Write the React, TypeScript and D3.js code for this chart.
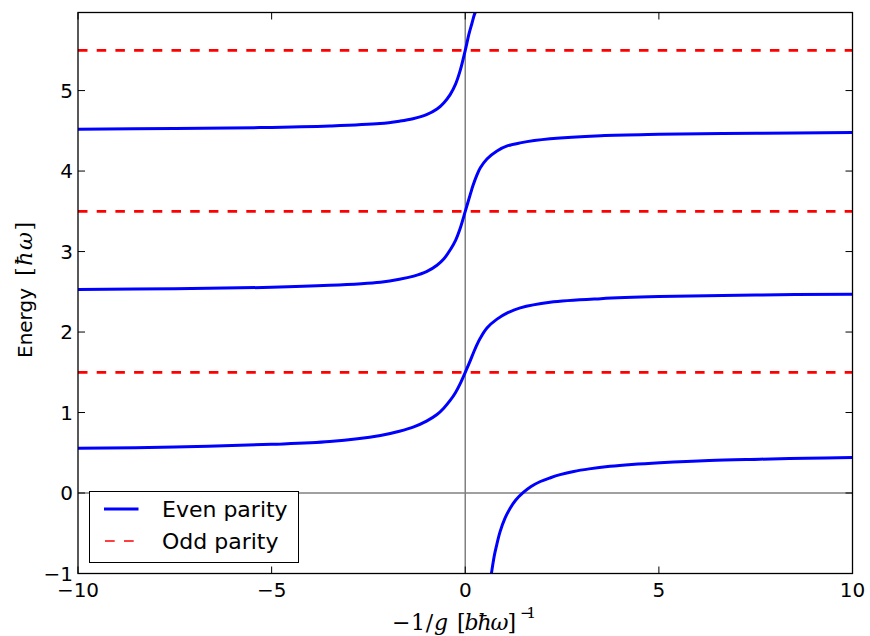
import React from "react";
import * as d3 from "d3";

// ---- data ----
const xDomain = [-10, 10];
const yDomain = [-1, 5.97];
const xTicks = [-10, -5, 0, 5, 10];
const yTicks = [-1, 0, 1, 2, 3, 4, 5];

// Even parity branches (x = -1/g, E = energy)
const evenA_x = [0.64, 0.69, 0.75, 0.8, 0.9, 1.03, 1.16, 1.3, 1.5, 1.7, 1.94, 2.2, 2.45, 2.8, 3.2, 3.74, 4.3, 5.03, 6.3, 7.61, 8.8, 10];
const evenA_E = [-1.13, -0.955, -0.78, -0.67, -0.48, -0.31, -0.19, -0.09, 0.007, 0.081, 0.143, 0.19, 0.228, 0.268, 0.3, 0.332, 0.355, 0.377, 0.405, 0.42, 0.432, 0.441];

const evenB_x = [-10, -7.5, -5, -3.5, -2.19, -1.7, -1.33, -1.0, -0.73, -0.55, -0.39, -0.25, -0.13, 0, 0.13, 0.21, 0.3, 0.39, 0.56, 0.82, 1.1, 1.42, 2.19, 3.5, 5, 7.5, 10];
const evenB_E = [0.555, 0.572, 0.605, 0.64, 0.715, 0.768, 0.822, 0.893, 0.975, 1.057, 1.15, 1.25, 1.36, 1.5, 1.645, 1.74, 1.84, 1.925, 2.05, 2.16, 2.24, 2.3, 2.37, 2.415, 2.44, 2.46, 2.47];

const evenC_x = [-10, -7.5, -5, -3.5, -2.19, -1.7, -1.33, -1.0, -0.73, -0.55, -0.39, -0.25, -0.13, 0, 0.13, 0.2, 0.3, 0.39, 0.56, 0.82, 1.1, 1.42, 2.19, 3.5, 5, 7.5, 10];
const evenC_E = [2.528, 2.538, 2.555, 2.58, 2.62, 2.655, 2.695, 2.75, 2.83, 2.91, 3.02, 3.14, 3.29, 3.5, 3.71, 3.82, 3.95, 4.04, 4.15, 4.25, 4.315, 4.35, 4.4, 4.44, 4.457, 4.47, 4.478];

const evenD_x = [-10, -7.5, -5.3, -3.5, -2.2, -1.7, -1.35, -1.0, -0.73, -0.55, -0.39, -0.25, -0.13, 0, 0.1, 0.17, 0.24, 0.3, 0.36];
const evenD_E = [4.521, 4.528, 4.54, 4.56, 4.59, 4.62, 4.65, 4.7, 4.77, 4.85, 4.95, 5.08, 5.25, 5.5, 5.71, 5.83, 5.95, 6.01, 6.08];

// Odd parity levels
const oddLevels = [1.5, 3.5, 5.5];

const legendLabels = ["Even parity", "Odd parity"];

const W = 870;
const H = 636;
const left = 78;
const right = 852.5;
const top = 12.5;
const bottom = 573.5;

export default function App() {
  const x = d3.scaleLinear().domain(xDomain).range([left, right]);
  const y = d3.scaleLinear().domain(yDomain).range([bottom, top]);
  const line = d3
    .line<[number, number]>()
    .x((d) => x(d[0]))
    .y((d) => y(d[1]))
    .curve(d3.curveCatmullRom.alpha(0.5));

  const branches = [
    [evenA_x, evenA_E],
    [evenB_x, evenB_E],
    [evenC_x, evenC_E],
    [evenD_x, evenD_E],
  ].map(([xs, es]) => xs.map((v, i) => [v, es[i]] as [number, number]));

  const tickLen = 7;
  const font = "DejaVu Sans";
  const serif = "DejaVu Serif";

  return (
    <svg
      width={W}
      height={H}
      style={{ position: "absolute", left: 0, top: 0, background: "#fff" }}
    >
      <defs>
        <clipPath id="plot">
          <rect x={left} y={top} width={right - left} height={bottom - top} />
        </clipPath>
      </defs>
      <rect x={0} y={0} width={W} height={H} fill="#fff" />
      <g clipPath="url(#plot)">
        <line x1={left} x2={right} y1={y(0)} y2={y(0)} stroke="#808080" strokeWidth={1.5} />
        <line x1={x(0)} x2={x(0)} y1={top} y2={bottom} stroke="#808080" strokeWidth={1.5} />
        {oddLevels.map((e) => (
          <line
            key={e}
            x1={left}
            x2={right}
            y1={y(e)}
            y2={y(e)}
            stroke="#ff0000"
            strokeWidth={2.8}
            strokeDasharray="9.5 9.2"
          />
        ))}
        {branches.map((b, i) => (
          <path key={i} d={line(b) || ""} fill="none" stroke="#0000ff" strokeWidth={3} strokeLinejoin="round" />
        ))}
      </g>
      {/* frame */}
      <rect
        x={left}
        y={top}
        width={right - left}
        height={bottom - top}
        fill="none"
        stroke="#000"
        strokeWidth={1.3}
      />
      {/* ticks */}
      {xTicks.map((t) => (
        <g key={"x" + t}>
          <line x1={x(t)} x2={x(t)} y1={bottom} y2={bottom - tickLen} stroke="#000" strokeWidth={1} />
          <line x1={x(t)} x2={x(t)} y1={top} y2={top + tickLen} stroke="#000" strokeWidth={1} />
          <text x={x(t)} y={597} textAnchor="middle" fontFamily={font} fontSize={20} fill="#000">
            {t < 0 ? "\u2212" + Math.abs(t) : String(t)}
          </text>
        </g>
      ))}
      {yTicks.map((t) => (
        <g key={"y" + t}>
          <line x1={left} x2={left + tickLen} y1={y(t)} y2={y(t)} stroke="#000" strokeWidth={1} />
          <line x1={right} x2={right - tickLen} y1={y(t)} y2={y(t)} stroke="#000" strokeWidth={1} />
          <text
            x={73}
            y={y(t)}
            dy="0.36em"
            textAnchor="end"
            fontFamily={font}
            fontSize={20}
            fill="#000"
          >
            {t < 0 ? "\u2212" + Math.abs(t) : String(t)}
          </text>
        </g>
      ))}
      {/* x axis label */}
      <text x={392} y={630} fontFamily={serif} fontSize={22} fill="#000" textLength={56} lengthAdjust="spacing">
        <tspan>{"\u2212"}1/</tspan>
        <tspan fontStyle="italic">g</tspan>
      </text>
      <text x={457} y={630} fontFamily={serif} fontSize={22} fill="#000" textLength={59} lengthAdjust="spacing">
        <tspan>[</tspan>
        <tspan fontStyle="italic">bħω</tspan>
        <tspan>]</tspan>
      </text>
      <text x={520} y={618} fontFamily={serif} fontSize={15} fill="#000" textLength={16} lengthAdjust="spacing">
        {"\u2212"}1
      </text>
      {/* y axis label */}
      <text
        transform="translate(32,358) rotate(-90)"
        fontFamily={font}
        fontSize={20}
        fill="#000"
      >
        Energy
      </text>
      <text
        transform="translate(32,276) rotate(-90)"
        fontFamily={serif}
        fontSize={22}
        fill="#000"
        textLength={54}
        lengthAdjust="spacing"
      >
        <tspan>[</tspan>
        <tspan fontStyle="italic">ħω</tspan>
        <tspan>]</tspan>
      </text>
      {/* legend */}
      <rect x={89.5} y={491.5} width={209} height={71} fill="#fff" stroke="#000" strokeWidth={1} />
      <line x1={104} x2={138.5} y1={509} y2={509} stroke="#0000ff" strokeWidth={3} />
      <line x1={105} x2={134} y1={541} y2={541} stroke="#ff0000" strokeWidth={1.3} strokeDasharray="9.7 9.3" />
      <text x={162} y={516.7} fontFamily={font} fontSize={22} fill="#000">
        {legendLabels[0]}
      </text>
      <text x={162} y={549.3} fontFamily={font} fontSize={22} fill="#000">
        {legendLabels[1]}
      </text>
    </svg>
  );
}
